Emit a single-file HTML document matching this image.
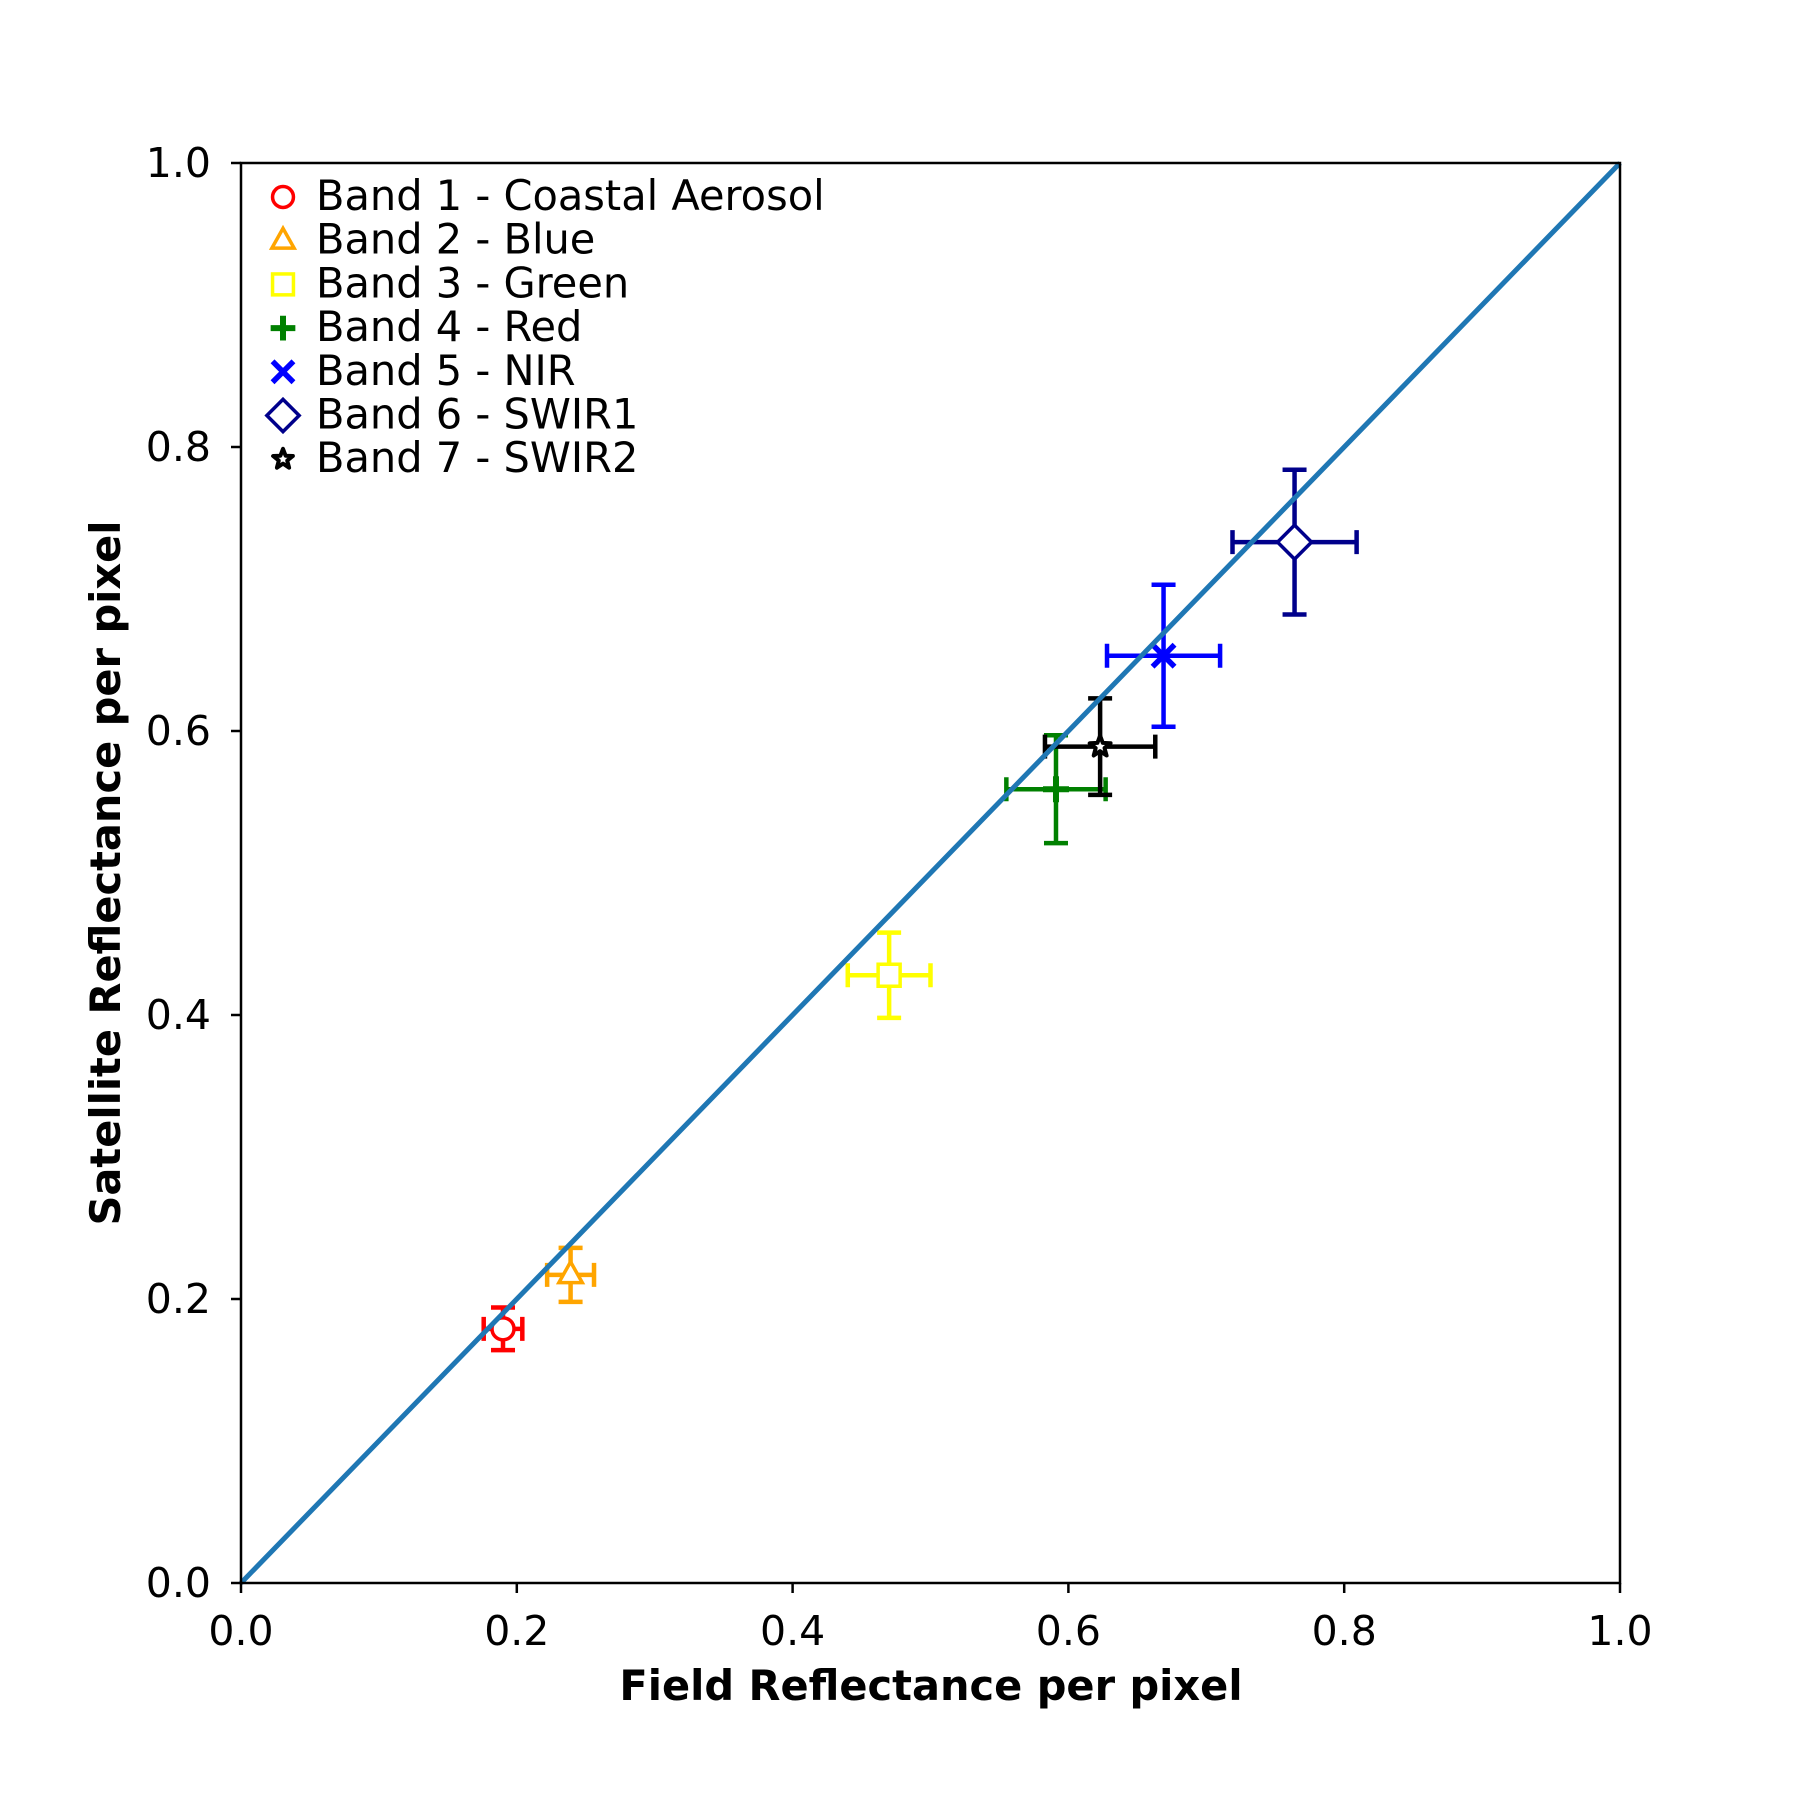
<!DOCTYPE html>
<html><head><meta charset="utf-8"><style>
html,body{margin:0;padding:0;background:#fff;}
svg{display:block;font-family:"DejaVu Sans","Liberation Sans",sans-serif;}
</style></head><body>
<svg id="chart" width="1800" height="1800" viewBox="0 0 1800 1800" xmlns="http://www.w3.org/2000/svg">
<rect width="1800" height="1800" fill="#fff"/>
<g id="marks"></g>
<g id="axes"></g>
<g id="legend"></g>
</svg>
<script>
const bandNames = ["Band 1 - Coastal Aerosol","Band 2 - Blue","Band 3 - Green","Band 4 - Red","Band 5 - NIR","Band 6 - SWIR1","Band 7 - SWIR2"];
const fieldX = [0.190,0.239,0.470,0.591,0.669,0.764,0.623];
const satY = [0.179,0.217,0.428,0.559,0.653,0.733,0.589];
const xErr = [0.014,0.017,0.030,0.036,0.041,0.045,0.040];
const yErr = [0.015,0.019,0.030,0.038,0.050,0.051,0.034];
const colors = ["#ff0000","#ffa500","#ffff00","#008000","#0000ff","#00008b","#000000"];
const markers = ["circle","triangle","square","plus","x","diamond","star"];
const tickVals = [0,0.2,0.4,0.6,0.8,1.0];
const tickLabels = ["0.0","0.2","0.4","0.6","0.8","1.0"];

const L=241,R=1620,T=163,B=1583;
const sx=v=>L+(R-L)*v, sy=v=>B-(B-T)*v;
const NS="http://www.w3.org/2000/svg";
function mk(tag,attrs,parent){const e=document.createElementNS(NS,tag);for(const k in attrs)e.setAttribute(k,attrs[k]);parent.appendChild(e);return e;}
const marks=document.getElementById('marks'),axes=document.getElementById('axes'),legend=document.getElementById('legend');

function drawMarker(g,type,cx,cy,c,s){
  let e;
  const sw=3.5;
  if(type==="circle"){e=mk('circle',{cx,cy,r:11*s,fill:'#fff',stroke:c,'stroke-width':sw},g);}
  else if(type==="triangle"){const r=13*s;e=mk('polygon',{points:`${cx},${cy-r} ${cx-r*0.9},${cy+r*0.6} ${cx+r*0.9},${cy+r*0.6}`,fill:'#fff',stroke:c,'stroke-width':sw},g);}
  else if(type==="square"){const r=11*s;e=mk('rect',{x:cx-r,y:cy-r,width:2*r,height:2*r,fill:'#fff',stroke:c,'stroke-width':sw},g);}
  else if(type==="plus"){const r=13*s;e=mk('path',{d:`M${cx-r},${cy}H${cx+r}M${cx},${cy-r}V${cy+r}`,stroke:c,'stroke-width':6,fill:'none'},g);}
  else if(type==="x"){const r=11*s;e=mk('path',{d:`M${cx-r},${cy-r}L${cx+r},${cy+r}M${cx-r},${cy+r}L${cx+r},${cy-r}`,stroke:c,'stroke-width':5.5,fill:'none'},g);}
  else if(type==="diamond"){const r=17*s;e=mk('polygon',{points:`${cx},${cy-r} ${cx+r},${cy} ${cx},${cy+r} ${cx-r},${cy}`,fill:'#fff',stroke:c,'stroke-width':sw},g);}
  else {const pts=[];const ro=11*s,ri=4.6*s;for(let i=0;i<10;i++){const a=-Math.PI/2+i*Math.PI/5;const r=i%2?ri:ro;pts.push((cx+r*Math.cos(a)).toFixed(1)+','+(cy+r*Math.sin(a)).toFixed(1));}
    e=mk('polygon',{points:pts.join(' '),fill:'#fff',stroke:c,'stroke-width':4,'stroke-linejoin':'round'},g);}
  return e;
}

for(let i=0;i<fieldX.length;i++){
  const g=mk('g',{},marks);
  
  
  const cx=sx(fieldX[i]),cy=sy(satY[i]),c=colors[i];
  const x1=sx(fieldX[i]-xErr[i]),x2=sx(fieldX[i]+xErr[i]),y1=sy(satY[i]+yErr[i]),y2=sy(satY[i]-yErr[i]);
  const cap=12;
  const eb=mk('path',{d:`M${x1},${cy}H${x2}M${cx},${y1}V${y2}M${x1},${cy-cap}V${cy+cap}M${x2},${cy-cap}V${cy+cap}M${cx-cap},${y1}H${cx+cap}M${cx-cap},${y2}H${cx+cap}`,stroke:c,'stroke-width':4.5,fill:'none'},g);
  
  
  const m=drawMarker(g,markers[i],cx,cy,c,1);
  
  
}
const diag=mk('line',{x1:sx(0),y1:sy(0),x2:sx(1),y2:sy(1),stroke:'#1f77b4','stroke-width':5},marks);



const frame=mk('rect',{x:L,y:T,width:R-L,height:B-T,fill:'none',stroke:'#000','stroke-width':2.5},axes);


for(let i=0;i<tickVals.length;i++){
  const x=sx(tickVals[i]),y=sy(tickVals[i]);
  const tx=mk('line',{x1:x,y1:B,x2:x,y2:B+10,stroke:'#000','stroke-width':2.5},axes);
  
  
  const lx=mk('text',{x:x,y:1645,'font-size':41,'text-anchor':'middle'},axes);
  lx.textContent=tickLabels[i];
  
  
  const ty=mk('line',{x1:L-10,y1:y,x2:L,y2:y,stroke:'#000','stroke-width':2.5},axes);
  
  
  const ly=mk('text',{x:211,y:y+14,'font-size':41,'text-anchor':'end'},axes);
  ly.textContent=tickLabels[i];
  
  
}
const xt=mk('text',{x:931,y:1700,'font-size':41.5,'font-weight':'bold','text-anchor':'middle'},axes);
xt.textContent='Field Reflectance per pixel';


const yt=mk('text',{x:0,y:0,'font-size':41.5,'font-weight':'bold','text-anchor':'middle',transform:'translate(120,873) rotate(-90)'},axes);
yt.textContent='Satellite Reflectance per pixel';



for(let i=0;i<bandNames.length;i++){
  const cy=197+i*43.7;
  const g=mk('g',{},legend);
  
  
  drawMarker(g,markers[i],283,cy,colors[i],0.95);
  const t=mk('text',{x:316,y:cy+13,'font-size':41.5},g);
  t.textContent=bandNames[i];
}
</script>
</body></html>
